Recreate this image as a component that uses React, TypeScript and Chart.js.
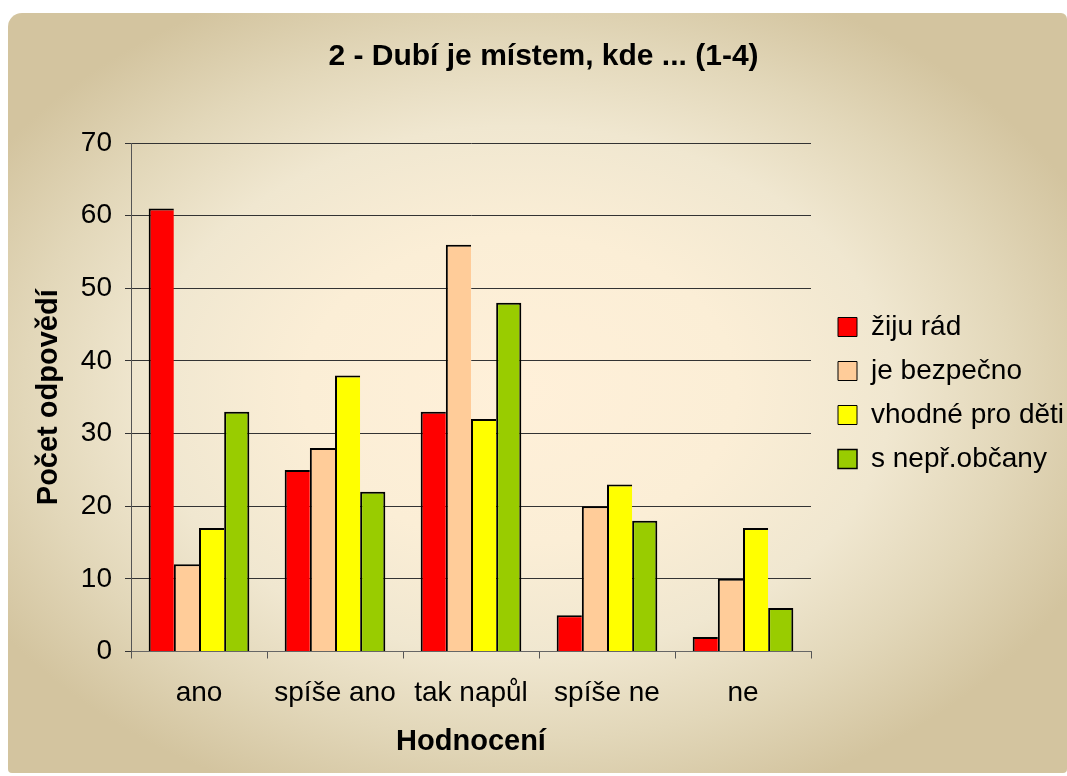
import React, { useEffect, useRef } from 'react';
import { Chart, registerables } from 'chart.js';

Chart.register(...registerables);

const titleText = '2 - Dubí je místem, kde ... (1-4)';
const xTitle = 'Hodnocení';
const yTitle = 'Počet odpovědí';
const categories = ['ano', 'spíše ano', 'tak napůl', 'spíše ne', 'ne'];
const seriesNames = ['žiju rád', 'je bezpečno', 'vhodné pro děti', 's nepř.občany'];
const zijuRad = [61, 25, 33, 5, 2];
const jeBezpecno = [12, 28, 56, 20, 10];
const vhodneProDeti = [17, 38, 32, 23, 17];
const sNeprObcany = [33, 22, 48, 18, 6];
const seriesColors = ['#FF0000', '#FFCC99', '#FFFF00', '#99CC00'];
const yMin = 0;
const yMax = 70;
const yStep = 10;

const FONT = "'Liberation Sans', Arial, sans-serif";

const bgPlugin = {
  id: 'cardBg',
  beforeDraw(chart: any) {
    const ctx = chart.ctx as CanvasRenderingContext2D;
    const x0 = 8, y0 = 13, x1 = 1067, y1 = 773;
    ctx.save();
    ctx.beginPath();
    (ctx as any).roundRect(x0, y0, x1 - x0, y1 - y0, [14, 6, 4, 4]);
    ctx.clip();
    const cx = 520, cy = 390, rx = 620, ry = 440;
    ctx.translate(cx, cy);
    ctx.scale(1, ry / rx);
    const g = ctx.createRadialGradient(0, 0, 0, 0, 0, rx);
    g.addColorStop(0, '#fff0d9');
    g.addColorStop(0.35, '#fbeed6');
    g.addColorStop(0.6, '#f0e7d0');
    g.addColorStop(0.8, '#e2d7b9');
    g.addColorStop(1, '#d3c49f');
    ctx.fillStyle = g;
    ctx.fillRect(-rx * 2, -rx * 2, rx * 4, rx * 4);
    ctx.restore();
  },
};

const legendPlugin = {
  id: 'legendTweak',
  afterInit(chart: any) {
    const legend = chart.legend;
    if (!legend) return;
    const origFit = legend.fit.bind(legend);
    legend.fit = () => {
      origFit();
      legend.width = 246;
    };
  },
  afterLayout(chart: any) {
    const legend = chart.legend;
    if (!legend) return;
    legend.left += 11;
    legend.right += 11;
  },
};

export default function App() {
  const ref = useRef<HTMLCanvasElement | null>(null);

  useEffect(() => {
    if (!ref.current) return;
    const series = [zijuRad, jeBezpecno, vhodneProDeti, sNeprObcany];
    const chart = new Chart(ref.current, {
      type: 'bar',
      data: {
        labels: categories,
        datasets: series.map((d, i) => ({
          label: seriesNames[i],
          data: d,
          backgroundColor: seriesColors[i],
          borderColor: '#000000',
          borderWidth: {
            top: 2,
            left: 2,
            right: i === series.length - 1 ? 2 : 0,
            bottom: 0,
          } as any,
          categoryPercentage: 0.74,
          barPercentage: 1.0,
        })),
      },
      options: {
        responsive: false,
        animation: false,
        devicePixelRatio: 1,
        layout: { padding: { left: 30, right: 10, top: 20, bottom: 10 } },
        plugins: {
          title: {
            display: true,
            text: titleText,
            color: '#000000',
            font: { family: FONT, size: 30, weight: 'bold' },
            padding: { top: 19, bottom: 68 },
          },
          legend: {
            display: true,
            position: 'right',
            align: 'center',
            labels: {
              color: '#000000',
              font: { family: FONT, size: 28 },
              boxWidth: 19,
              boxHeight: 19,
              padding: 16,
            },
          },
          tooltip: { enabled: false },
        },
        scales: {
          x: {
            grid: {
              display: true,
              drawOnChartArea: false,
              drawTicks: true,
              tickLength: 7,
              color: '#555555',
              offset: true,
            },
            border: { display: true, color: '#666666', width: 1 },
            ticks: {
              color: '#000000',
              font: { family: FONT, size: 28 },
              padding: 18,
              maxRotation: 0,
              autoSkip: false,
            },
            title: {
              display: true,
              text: xTitle,
              color: '#000000',
              font: { family: FONT, size: 29, weight: 'bold' },
              padding: { top: 0, bottom: 7 },
            },
            afterFit(scale: any) {
              scale.height = 114.5;
            },
          },
          y: {
            min: yMin,
            max: yMax,
            grid: {
              color: '#333333',
              lineWidth: 1,
              drawTicks: true,
              tickLength: 6,
            },
            border: { display: true, color: '#555555', width: 1 },
            ticks: {
              stepSize: yStep,
              color: '#000000',
              font: { family: FONT, size: 28 },
              padding: 13,
            },
            title: {
              display: true,
              text: yTitle,
              color: '#000000',
              font: { family: FONT, size: 29, weight: 'bold' },
              padding: { top: 2, bottom: 0 },
            },
            afterFit(scale: any) {
              scale.width = 101;
            },
          },
        },
      },
      plugins: [bgPlugin, legendPlugin],
    });
    return () => chart.destroy();
  }, []);

  return (
    <div style={{ position: 'absolute', left: 0, top: 0, width: 1067, height: 776 }}>
      <canvas ref={ref} width={1067} height={776} style={{ display: 'block' }} />
    </div>
  );
}
